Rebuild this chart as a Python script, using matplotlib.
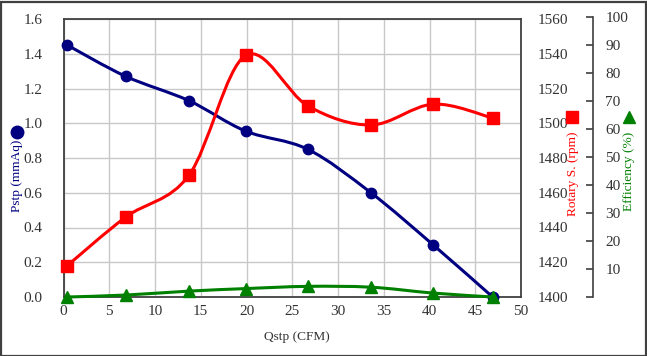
import matplotlib
matplotlib.use("Agg")
import matplotlib.pyplot as plt
from matplotlib.path import Path
from matplotlib.patches import PathPatch, Rectangle
from matplotlib.lines import Line2D
import numpy as np

# ---- data ----
qstp = [0.4, 6.8, 13.7, 19.9, 26.7, 33.6, 40.4, 46.9]
pstp = [1.45, 1.27, 1.13, 0.955, 0.85, 0.60, 0.30, 0.0]
rotary = [1418, 1446, 1470, 1539, 1510, 1499, 1511, 1503]
efficiency = [0.0, 0.7, 2.1, 3.0, 3.8, 3.5, 1.4, 0.0]

x_ticks = [0, 5, 10, 15, 20, 25, 30, 35, 40, 45, 50]
p_ticks = [0.0, 0.2, 0.4, 0.6, 0.8, 1.0, 1.2, 1.4, 1.6]
r_ticks = [1400, 1420, 1440, 1460, 1480, 1500, 1520, 1540, 1560]
e_ticks = [10, 20, 30, 40, 50, 60, 70, 80, 90, 100]

NAVY = "#000080"
RED = "#ff0000"
GREEN = "#008000"
SPINE = "#404040"
GRID = "#c8c8c8"
TXT = "#333333"

plt.rcParams["font.family"] = ["Liberation Serif", "DejaVu Serif"]
FS = 11
FT = 9.6


def smooth_path(xs, ys):
    pts = np.column_stack([xs, ys]).astype(float)
    n = len(pts)
    verts = [pts[0]]
    codes = [Path.MOVETO]
    for i in range(n - 1):
        p0 = pts[i - 1] if i > 0 else pts[i]
        p1 = pts[i]
        p2 = pts[i + 1]
        p3 = pts[i + 2] if i + 2 < n else pts[i + 1]
        c1 = p1 + (p2 - p0) / 6.0
        c2 = p2 - (p3 - p1) / 6.0
        verts += [c1, c2, p2]
        codes += [Path.CURVE4] * 3
    return Path(verts, codes)


W, H = 647, 356
fig = plt.figure(figsize=(W / 100, H / 100), dpi=100)

x0px, x1px = 63.5, 521.0
ytop, ybot = 19.0, 297.0
ax = fig.add_axes([x0px / W, 1 - ybot / H, (x1px - x0px) / W, (ybot - ytop) / H])
ax.set_xlim(0, 50)
ax.set_ylim(0, 1.6)
ax.set_xticks(x_ticks)
ax.set_yticks(p_ticks)
ax.set_yticklabels([f"{v:.1f}" for v in p_ticks])
ax.grid(True, color=GRID, linewidth=1.0)
ax.set_axisbelow(True)
for s in ax.spines.values():
    s.set_color(SPINE)
    s.set_linewidth(1.3)
ax.tick_params(axis="both", length=0, labelsize=FS, colors=TXT)
ax.tick_params(axis="y", pad=15)
ax.tick_params(axis="x", pad=6)

ax2 = ax.twinx()
ax2.set_ylim(1400, 1560)
ax2.set_yticks(r_ticks)
ax2.tick_params(axis="y", length=0, labelsize=FS, colors=TXT, pad=12)
for s in ax2.spines.values():
    s.set_visible(False)

# efficiency axis
etop = 17.0
ax3 = fig.add_axes([x0px / W, 1 - ybot / H, (x1px - x0px) / W, (ybot - etop) / H])
ax3.patch.set_visible(False)
ax3.set_xlim(0, 50)
ax3.set_ylim(0, 100)
ax3.set_xticks([])
for k in ["left", "top", "bottom"]:
    ax3.spines[k].set_visible(False)
ax3.spines["right"].set_position(("axes", (593 - x0px) / (x1px - x0px)))
ax3.spines["right"].set_color(SPINE)
ax3.spines["right"].set_linewidth(1.2)
ax3.yaxis.set_ticks_position("right")
ax3.yaxis.set_label_position("right")
ax3.set_yticks([0] + e_ticks)
ax3.set_yticklabels([""] + [str(v) for v in e_ticks])
ax3.tick_params(axis="y", direction="in", length=5, width=1.2, color=SPINE,
                labelsize=FS, labelcolor=TXT, pad=9)

# series
ax.add_patch(PathPatch(smooth_path(qstp, pstp), fill=False, edgecolor=NAVY, lw=2.2, zorder=3))
ax.plot(qstp, pstp, linestyle="none", marker="o", ms=7.5, color=NAVY, zorder=4, clip_on=False)

ax2.add_patch(PathPatch(smooth_path(qstp, rotary), fill=False, edgecolor=RED, lw=2.2, zorder=3))
ax2.plot(qstp, rotary, linestyle="none", marker="s", ms=8.5, color=RED, zorder=4, clip_on=False)

ax3.add_patch(PathPatch(smooth_path(qstp, efficiency), fill=False, edgecolor=GREEN, lw=2.2,
                        zorder=3, clip_on=False))
ax3.plot(qstp, efficiency, linestyle="none", marker="^", ms=8.5, color=GREEN, zorder=4, clip_on=False)

# axis titles
fig.text(297 / W, 1 - 337 / H, "Qstp (CFM)", ha="center", va="center", fontsize=FT, color=TXT)
fig.text(17 / W, 1 - 176 / H, "Pstp (mmAq)", rotation=90, ha="center", va="center", fontsize=FT, color=NAVY)
fig.text(573 / W, 1 - 174 / H, "Rotary S. (rpm)", rotation=90, ha="center", va="center", fontsize=FT, color=RED)
fig.text(629 / W, 1 - 171 / H, "Efficiency (%)", rotation=90, ha="center", va="center", fontsize=FT, color=GREEN)
fig.add_artist(Line2D([17 / W], [1 - 132 / H], transform=fig.transFigure, marker="o", ms=9,
                      color=NAVY, linestyle="none"))
fig.add_artist(Line2D([572 / W], [1 - 117 / H], transform=fig.transFigure, marker="s", ms=9,
                      color=RED, linestyle="none"))
fig.add_artist(Line2D([629 / W], [1 - 117 / H], transform=fig.transFigure, marker="^", ms=9,
                      color=GREEN, linestyle="none"))

# figure border
fig.add_artist(Rectangle((0.5 / W, 0.5 / H), (W - 2) / W, (H - 2) / H, transform=fig.transFigure,
                         fill=False, edgecolor=SPINE, linewidth=1.6))

fig.savefig("out.png", dpi=100)
